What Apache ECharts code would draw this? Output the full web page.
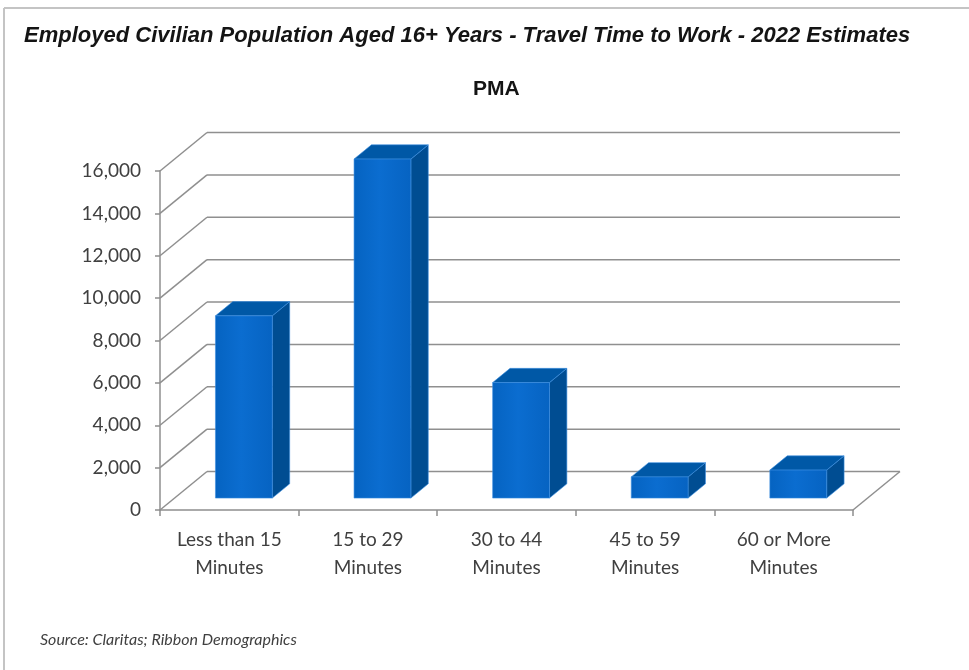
<!DOCTYPE html>
<html>
<head>
<meta charset="utf-8">
<title>Travel Time to Work - 2022 Estimates</title>
<script src="https://cdn.jsdelivr.net/npm/echarts@6/dist/echarts.min.js"></script>
<style>
  html, body { margin: 0; padding: 0; background: #ffffff; }
  #chart { width: 969px; height: 670px; }
</style>
</head>
<body>
<div id="chart"></div>
<script>
// Travel time categories and employed population counts (PMA)
const categories = [
  'Less than 15\nMinutes',
  '15 to 29\nMinutes',
  '30 to 44\nMinutes',
  '45 to 59\nMinutes',
  '60 or More\nMinutes'
];
const workers = [8600, 16000, 5450, 1000, 1320];
const yTicks = [0, 2000, 4000, 6000, 8000, 10000, 12000, 14000, 16000];

// Perspective offset of the back wall relative to the front plane
const DEPTH_X = 47;
const DEPTH_Y = -38.5;
// Bars sit between these fractions of the depth
const BAR_FRONT = 0.31;
const BAR_BACK = 0.68;

const GRID_COLOR = '#8f8f8f';
const LABEL_FONT = 'Lato, "Open Sans", sans-serif';

const chart = echarts.init(document.getElementById('chart'), null, { renderer: 'canvas' });

// Side wall diagonals, back-wall gridlines and the floor outline
function renderWalls(params, api) {
  const cs = params.coordSys;
  const v = api.value(1);
  const y = api.coord([0, v])[1];
  const x0 = cs.x;
  const x1 = cs.x + cs.width;
  const style = { stroke: GRID_COLOR, lineWidth: 1.5 };
  const children = [
    { type: 'line', shape: { x1: x0, y1: y, x2: x0 + DEPTH_X, y2: y + DEPTH_Y }, style },
    { type: 'line', shape: { x1: x0 + DEPTH_X, y1: y + DEPTH_Y, x2: x1 + DEPTH_X, y2: y + DEPTH_Y }, style }
  ];
  if (v === 0) {
    children.push({ type: 'line', shape: { x1: x1, y1: y, x2: x1 + DEPTH_X, y2: y + DEPTH_Y }, style });
  }
  return { type: 'group', children };
}

// Extruded bar: front face, top and right side
function renderBar(params, api) {
  const idx = api.value(0);
  const v = api.value(1);
  const top = api.coord([idx, v]);
  const base = api.coord([idx, 0]);
  const w = api.size([1, 0])[0] * 0.41;
  const L = top[0] - w / 2;
  const R = top[0] + w / 2;
  const fx = BAR_FRONT * DEPTH_X, fy = BAR_FRONT * DEPTH_Y;
  const bx = BAR_BACK * DEPTH_X, by = BAR_BACK * DEPTH_Y;
  const yt = top[1], yb = base[1];
  const edge = '#3d8fe0';
  return {
    type: 'group',
    children: [
      {
        type: 'polygon',
        shape: { points: [[R + fx, yt + fy], [R + bx, yt + by], [R + bx, yb + by], [R + fx, yb + fy]] },
        style: { fill: '#004d92', stroke: edge, lineWidth: 0.6 }
      },
      {
        type: 'polygon',
        shape: { points: [[L + fx, yt + fy], [R + fx, yt + fy], [R + bx, yt + by], [L + bx, yt + by]] },
        style: { fill: '#0058a6', stroke: edge, lineWidth: 0.6 }
      },
      {
        type: 'rect',
        shape: { x: L + fx, y: yt + fy, width: R - L, height: yb - yt },
        style: {
          fill: new echarts.graphic.LinearGradient(0, 0, 1, 0, [
            { offset: 0, color: '#0563c1' },
            { offset: 0.45, color: '#0b6dd0' },
            { offset: 1, color: '#0663c2' }
          ]),
          stroke: edge,
          lineWidth: 0.6
        }
      }
    ]
  };
}

const option = {
  animation: false,
  backgroundColor: '#ffffff',
  graphic: [
    { type: 'line', shape: { x1: 4, y1: 8, x2: 969, y2: 8 }, style: { stroke: '#c4c4c4', lineWidth: 2 } },
    { type: 'line', shape: { x1: 4, y1: 8, x2: 4, y2: 670 }, style: { stroke: '#c4c4c4', lineWidth: 2 } },
    {
      type: 'text',
      left: 24,
      top: 25,
      style: {
        text: 'Employed Civilian Population Aged 16+ Years - Travel Time to Work - 2022 Estimates',
        font: 'italic bold 22px "Liberation Sans", Arial, sans-serif',
        fill: '#141414'
      }
    },
    {
      type: 'text',
      left: 473,
      top: 79,
      style: {
        text: 'PMA',
        font: 'bold 21px "Liberation Sans", Arial, sans-serif',
        fill: '#141414'
      }
    },
    {
      type: 'text',
      left: 40,
      top: 632,
      style: {
        text: 'Source: Claritas; Ribbon Demographics',
        font: 'italic 16px ' + LABEL_FONT,
        fill: '#404040'
      }
    }
  ],
  grid: { left: 160, right: 116, top: 171, bottom: 160, containLabel: false },
  xAxis: {
    type: 'category',
    data: categories,
    axisLine: { show: true, lineStyle: { color: GRID_COLOR, width: 1.5 } },
    axisTick: { show: true, length: 6, lineStyle: { color: GRID_COLOR, width: 1.5 } },
    axisLabel: {
      margin: 16,
      fontFamily: LABEL_FONT,
      fontSize: 19,
      lineHeight: 28,
      color: '#404040'
    },
    splitLine: { show: false }
  },
  yAxis: {
    type: 'value',
    min: yTicks[0],
    max: yTicks[yTicks.length - 1],
    interval: yTicks[1] - yTicks[0],
    axisLine: { show: true, lineStyle: { color: GRID_COLOR, width: 1.5 } },
    axisTick: { show: true, length: 5, lineStyle: { color: GRID_COLOR, width: 1.5 } },
    axisLabel: {
      margin: 19,
      fontFamily: LABEL_FONT,
      fontSize: 19,
      color: '#404040',
      formatter: (v) => v.toLocaleString('en-US')
    },
    splitLine: { show: false }
  },
  series: [
    {
      type: 'custom',
      renderItem: renderWalls,
      data: yTicks.map((t) => [0, t]),
      encode: { x: 0, y: 1 },
      silent: true,
      z: 1
    },
    {
      type: 'custom',
      renderItem: renderBar,
      data: workers.map((v, i) => [i, v]),
      encode: { x: 0, y: 1 },
      z: 2
    }
  ]
};

chart.setOption(option);
</script>
</body>
</html>
